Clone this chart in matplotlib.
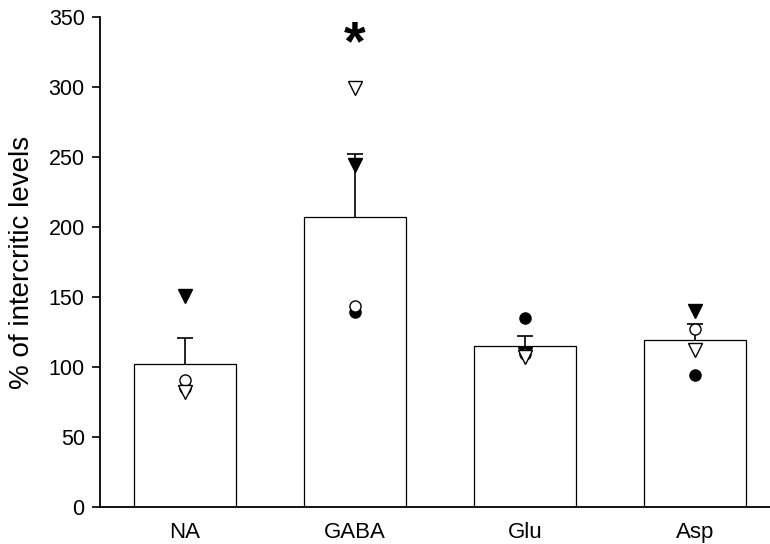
import matplotlib.pyplot as plt
import numpy as np

plt.rcParams['font.family'] = ['Liberation Sans', 'DejaVu Sans']

categories = ['NA', 'GABA', 'Glu', 'Asp']
means = [102, 207, 115, 119]
err_upper = [19, 45.5, 7, 12]

# individual values per subject
filled_circle = [85, 139, 135, 94]
filled_triangle = [151, 244, 109, 140]
open_circle = [91, 143.5, 109, 127.5]
open_triangle = [82.5, 299, 107, 112]

star_value = 330  # significance marker above GABA

fig = plt.figure(figsize=(7.7, 5.44), dpi=100)
ax = fig.add_axes([100 / 770, 1 - 507 / 544, 1 - 100 / 770, (507 - 17) / 544])

x = np.arange(len(categories))
tops = np.array(means) + np.array(err_upper)

# only the upper half of the SEM is shown
ax.vlines(x, means, tops, color='black', linewidth=1.2, zorder=1)
ax.plot(x, tops, '_', ms=11, mew=1.2, color='black', zorder=1)
ax.bar(x, means, width=0.6, color='white', edgecolor='black', linewidth=0.9, zorder=2)

ax.plot(x, filled_circle, 'o', ms=8, mfc='black', mec='black', zorder=3)
ax.plot(x, filled_triangle, 'v', ms=10, mfc='black', mec='black', zorder=4)
ax.plot(x, open_circle, 'o', ms=8, mfc='white', mec='black', mew=1.0, zorder=5)
ax.plot(x, open_triangle, 'v', ms=10, mfc='white', mec='black', mew=1.0, zorder=6)

ax.text(1, star_value, '*', fontsize=40, fontweight='bold', ha='center', va='center')

ax.set_xlim(-0.5, 3.44)
ax.set_ylim(0, 350)
ax.set_yticks(np.arange(0, 351, 50))
ax.set_xticks(x)
ax.set_xticklabels(categories, fontsize=16)
ax.tick_params(axis='y', direction='out', length=6, width=1.2, labelsize=15.5, pad=5)
ax.tick_params(axis='x', length=0, pad=11)
ax.set_ylabel('% of intercritic levels', fontsize=20, labelpad=10)

for side in ['top', 'right']:
    ax.spines[side].set_visible(False)
for side in ['left', 'bottom']:
    ax.spines[side].set_linewidth(1.3)

fig.savefig('out.png', dpi=100)
